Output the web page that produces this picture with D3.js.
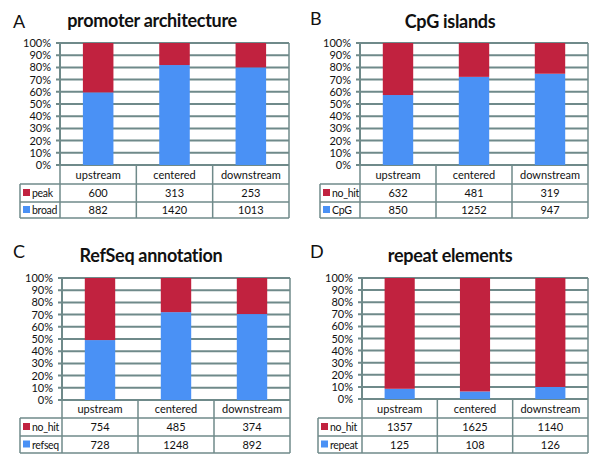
<!DOCTYPE html>
<html>
<head>
<meta charset="UTF-8" />
<script src="https://d3js.org/d3.v7.min.js"></script>
<style>
  body { margin: 0; background: #fff; }
  text { font-family: Lato, "Open Sans", sans-serif; fill: #111; }
</style>
</head>
<body>
<script>
const categories = ["upstream", "centered", "downstream"];
const yTicks = [0, 10, 20, 30, 40, 50, 60, 70, 80, 90, 100];

const promoterPeak = [600, 313, 253];
const promoterBroad = [882, 1420, 1013];
const cpgNoHit = [632, 481, 319];
const cpgCpG = [850, 1252, 947];
const refseqNoHit = [754, 485, 374];
const refseqHit = [728, 1248, 892];
const repeatNoHit = [1357, 1625, 1140];
const repeatHit = [125, 108, 126];

const red = "#c1223f";
const blue = "#4a91f5";
const gridColor = "#6f8a8a";

const panels = [
  { letter: "A", title: "promoter architecture", top: promoterPeak, bottom: promoterBroad,
    topLabel: "peak", bottomLabel: "broad",
    lx: 13, ly: 28, tx: 152, ty: 27, x0: 60, x1: 289, y0: 43, y1: 165, rows: [184, 202, 218], leg: 20 },
  { letter: "B", title: "CpG islands", top: cpgNoHit, bottom: cpgCpG,
    topLabel: "no_hit", bottomLabel: "CpG",
    lx: 310, ly: 25, tx: 450, ty: 28, x0: 360, x1: 588, y0: 43, y1: 165, rows: [184, 202, 218], leg: 320 },
  { letter: "C", title: "RefSeq annotation", top: refseqNoHit, bottom: refseqHit,
    topLabel: "no_hit", bottomLabel: "refseq",
    lx: 13, ly: 258, tx: 151, ty: 262, x0: 62, x1: 290, y0: 278, y1: 400, rows: [418, 436, 453], leg: 20 },
  { letter: "D", title: "repeat elements", top: repeatNoHit, bottom: repeatHit,
    topLabel: "no_hit", bottomLabel: "repeat",
    lx: 310, ly: 258, tx: 450, ty: 262, x0: 362, x1: 588, y0: 278, y1: 399, rows: [418, 436, 453], leg: 318 }
];

const svg = d3.select("body").append("svg")
  .attr("width", 600)
  .attr("height", 459);

panels.forEach(p => {
  const g = svg.append("g");

  g.append("text")
    .attr("x", p.lx).attr("y", p.ly)
    .style("font-size", "18px")
    .text(p.letter);

  g.append("text")
    .attr("x", p.tx).attr("y", p.ty)
    .attr("text-anchor", "middle")
    .style("font-size", "18px")
    .style("font-weight", "bold")
    .style("letter-spacing", "-0.3px")
    .text(p.title);

  const x = d3.scaleBand().domain(categories).range([p.x0, p.x1]).paddingInner(0.6).paddingOuter(0.3);
  const xCell = d3.scaleBand().domain(categories).range([p.x0, p.x1]);
  const y = d3.scaleLinear().domain([0, 100]).range([p.y1, p.y0]);

  // griglia
  g.selectAll("line.grid").data(yTicks).enter().append("line")
    .attr("x1", p.x0 - 4).attr("x2", p.x1)
    .attr("y1", d => y(d)).attr("y2", d => y(d))
    .attr("stroke", gridColor).attr("stroke-width", 2);

  g.append("line")
    .attr("x1", p.x0).attr("x2", p.x0)
    .attr("y1", p.y0).attr("y2", p.y1)
    .attr("stroke", gridColor).attr("stroke-width", 2);

  g.selectAll("text.tick").data(yTicks).enter().append("text")
    .attr("x", p.x0 - 9).attr("y", d => y(d) + 4)
    .attr("text-anchor", "end")
    .style("font-size", "11px")
    .text(d => d + "%");

  // barre impilate al 100%
  categories.forEach((c, i) => {
    const total = p.top[i] + p.bottom[i];
    const pb = p.bottom[i] / total * 100;
    g.append("rect")
      .attr("x", x(c)).attr("width", x.bandwidth())
      .attr("y", y(pb)).attr("height", y(0) - y(pb))
      .attr("fill", blue);
    g.append("rect")
      .attr("x", x(c)).attr("width", x.bandwidth())
      .attr("y", y(100)).attr("height", y(pb) - y(100))
      .attr("fill", red);
  });

  // tabella dati
  const [r0, r1, r2] = p.rows;
  const tb = g.append("g").attr("fill", "none").attr("stroke", gridColor).attr("stroke-width", 1.5);
  tb.append("line").attr("x1", p.x1).attr("x2", p.x1).attr("y1", p.y0).attr("y2", r2);
  tb.append("line").attr("x1", p.x0).attr("x2", p.x0).attr("y1", p.y1).attr("y2", r2);
  tb.append("line").attr("x1", p.leg).attr("x2", p.leg).attr("y1", r0).attr("y2", r2);
  categories.slice(1).forEach(c => {
    tb.append("line").attr("x1", xCell(c)).attr("x2", xCell(c)).attr("y1", p.y1).attr("y2", r2);
  });
  tb.append("line").attr("x1", p.leg).attr("x2", p.x1).attr("y1", r0).attr("y2", r0);
  tb.append("line").attr("x1", p.leg).attr("x2", p.x1).attr("y1", r1).attr("y2", r1);
  tb.append("line").attr("x1", p.leg).attr("x2", p.x1).attr("y1", r2).attr("y2", r2);

  categories.forEach((c, i) => {
    const cx = xCell(c) + xCell.bandwidth() / 2;
    g.append("text").attr("x", cx).attr("y", (p.y1 + r0) / 2 + 4)
      .attr("text-anchor", "middle").style("font-size", "11px").text(c);
    g.append("text").attr("x", cx).attr("y", (r0 + r1) / 2 + 4)
      .attr("text-anchor", "middle").style("font-size", "11px").text(p.top[i]);
    g.append("text").attr("x", cx).attr("y", (r1 + r2) / 2 + 4)
      .attr("text-anchor", "middle").style("font-size", "11px").text(p.bottom[i]);
  });

  [[p.topLabel, red, r0, r1], [p.bottomLabel, blue, r1, r2]].forEach(([lab, col, a, b]) => {
    const mid = (a + b) / 2;
    g.append("rect").attr("x", p.leg + 3).attr("y", mid - 4).attr("width", 7).attr("height", 7).attr("fill", col);
    g.append("text").attr("x", p.leg + 12).attr("y", mid + 4)
      .style("font-size", "10.5px").style("letter-spacing", "-0.3px").text(lab);
  });
});
</script>
</body>
</html>
